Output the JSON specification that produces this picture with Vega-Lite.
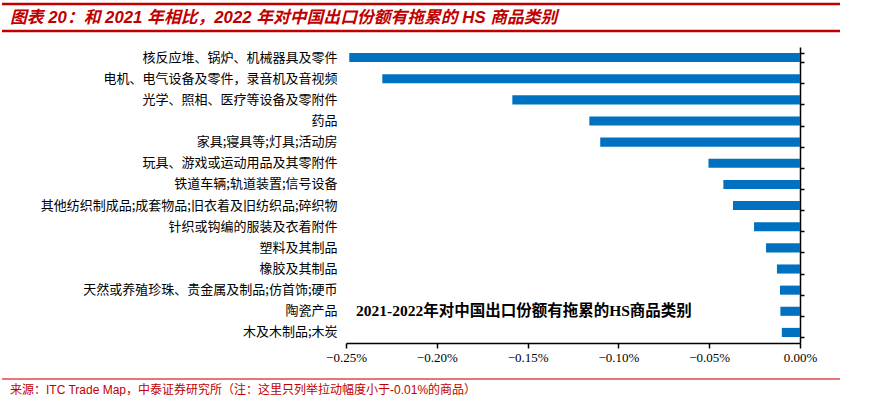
{
  "$schema": "https://vega.github.io/schema/vega-lite/v6.json",
  "padding": {"left": 0, "top": 2, "right": 0, "bottom": 0},
  "spacing": 14,
  "config": {"view": {"stroke": null}},
  "vconcat": [
    {
      "width": 494,
      "height": 27,
      "data": {"values": [{"t": "图表 20：和 2021 年相比，2022 年对中国出口份额有拖累的 HS 商品类别"}]},
      "layer": [
        {
          "mark": {"type": "rule", "color": "#C00000", "strokeWidth": 2.5},
          "encoding": {
            "x": {"datum": 0, "type": "quantitative", "scale": {"domain": [0, 1], "range": [-344, 494], "nice": false, "zero": false}, "axis": null},
            "x2": {"datum": 1},
            "y": {"datum": 1, "type": "quantitative", "scale": {"domain": [0, 1], "nice": false, "zero": false}, "axis": null}
          }
        },
        {
          "mark": {"type": "rule", "color": "#C00000", "strokeWidth": 2.5},
          "encoding": {
            "x": {"datum": 0, "type": "quantitative", "axis": null},
            "x2": {"datum": 1},
            "y": {"datum": 0, "type": "quantitative", "axis": null}
          }
        },
        {
          "mark": {"type": "text", "align": "left", "baseline": "middle", "dx": 8, "font": "Liberation Sans, Noto Sans CJK SC", "fontSize": 16.8, "fontStyle": "italic", "fontWeight": "bold", "color": "#C00000"},
          "encoding": {
            "text": {"field": "t"},
            "x": {"datum": 0, "type": "quantitative", "axis": null},
            "y": {"datum": 0.5, "type": "quantitative", "axis": null}
          }
        }
      ]
    },
    {
      "width": 454,
      "height": 296,
      "data": {"values": [
        {"cat": "核反应堆、锅炉、机械器具及零件", "v": -0.002482},
        {"cat": "电机、电气设备及零件，录音机及音视频", "v": -0.0023},
        {"cat": "光学、照相、医疗等设备及零附件", "v": -0.001584},
        {"cat": "药品", "v": -0.00116},
        {"cat": "家具;寝具等;灯具;活动房", "v": -0.0011},
        {"cat": "玩具、游戏或运动用品及其零附件", "v": -0.000504},
        {"cat": "铁道车辆;轨道装置;信号设备", "v": -0.000422},
        {"cat": "其他纺织制成品;成套物品;旧衣着及旧纺织品;碎织物", "v": -0.000369},
        {"cat": "针织或钩编的服装及衣着附件", "v": -0.000253},
        {"cat": "塑料及其制品", "v": -0.000187},
        {"cat": "橡胶及其制品", "v": -0.000127},
        {"cat": "天然或养殖珍珠、贵金属及制品;仿首饰;硬币", "v": -0.00011},
        {"cat": "陶瓷产品", "v": -0.000108},
        {"cat": "木及木制品;木炭", "v": -0.0001}
      ]},
      "layer": [
        {
          "mark": {"type": "bar", "color": "#0070C0"},
          "encoding": {
            "y": {"field": "cat", "type": "nominal", "sort": null,
              "scale": {"paddingInner": 0.57, "paddingOuter": 0.285},
              "axis": {"orient": "left", "title": null, "domain": false, "ticks": false, "labelPadding": 9, "labelFont": "Noto Sans CJK SC", "labelFontSize": 13, "labelColor": "#000000", "labelLimit": 400, "minExtent": 344, "maxExtent": 344}},
            "x": {"field": "v", "type": "quantitative",
              "scale": {"domain": [-0.0025, 0], "nice": false, "zero": false},
              "axis": {"orient": "bottom", "title": null, "format": ".2%", "values": [-0.0025, -0.002, -0.0015, -0.001, -0.0005, 0], "grid": false, "domainColor": "#000000", "domainWidth": 1.5, "tickColor": "#000000", "tickWidth": 1.5, "tickSize": 5, "labelFont": "Liberation Serif", "labelFontSize": 13, "labelColor": "#000000", "labelPadding": 3, "labelFlush": false, "labelOverlap": false}}
          }
        },
        {
          "mark": {"type": "bar", "opacity": 0},
          "encoding": {
            "y": {"field": "cat", "type": "nominal", "sort": null,
              "axis": {"orient": "right", "title": null, "labels": false, "ticks": true, "tickBand": "extent", "tickSize": 4, "tickColor": "#000000", "tickWidth": 1.5, "domainColor": "#000000", "domainWidth": 1.5}},
            "x": {"field": "v", "type": "quantitative"}
          }
        },
        {
          "data": {"values": [{"label": "2021-2022年对中国出口份额有拖累的HS商品类别"}]},
          "mark": {"type": "text", "align": "left", "baseline": "middle", "font": "Liberation Serif, Noto Sans CJK SC", "fontSize": 15.5, "fontWeight": "bold", "color": "#000000"},
          "encoding": {
            "text": {"field": "label"},
            "x": {"datum": -0.002445, "type": "quantitative"},
            "y": {"datum": "陶瓷产品", "type": "nominal", "axis": null}
          }
        }
      ],
      "resolve": {"axis": {"y": "independent"}}
    },
    {
      "width": 494,
      "height": 11,
      "data": {"values": [{"t": "来源：ITC Trade Map，中泰证券研究所（注：这里只列举拉动幅度小于-0.01%的商品）"}]},
      "layer": [
        {
          "mark": {"type": "rule", "color": "#E0474C", "strokeWidth": 1.5},
          "encoding": {
            "x": {"datum": 0, "type": "quantitative", "scale": {"domain": [0, 1], "range": [-344, 494], "nice": false, "zero": false}, "axis": null},
            "x2": {"datum": 1},
            "y": {"datum": 1, "type": "quantitative", "scale": {"domain": [0, 1], "nice": false, "zero": false}, "axis": null}
          }
        },
        {
          "mark": {"type": "text", "align": "left", "baseline": "middle", "dx": 8, "font": "Liberation Sans, Noto Sans CJK SC", "fontSize": 12, "color": "#C00000"},
          "encoding": {
            "text": {"field": "t"},
            "x": {"datum": 0, "type": "quantitative", "axis": null},
            "y": {"datum": 0, "type": "quantitative", "axis": null}
          }
        }
      ]
    }
  ]
}
